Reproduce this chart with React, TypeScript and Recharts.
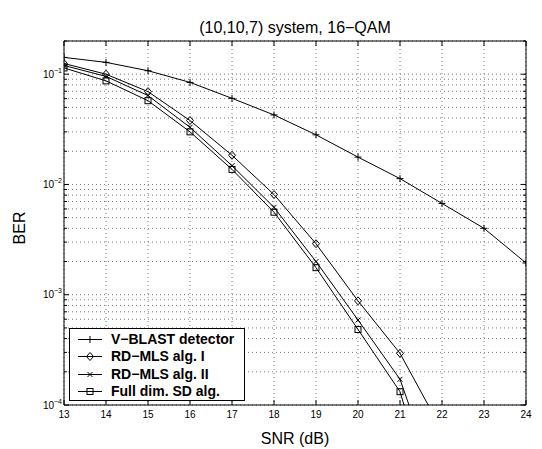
import React from 'react';
import { LineChart, Line, XAxis, YAxis, CartesianGrid, Legend } from 'recharts';

// values (BER vs SNR)
const snr = [13, 14, 15, 16, 17, 18, 19, 20, 21, 22, 23, 24];
const vblast = [0.142, 0.128, 0.1075, 0.0843, 0.0604, 0.0427, 0.0282, 0.0177, 0.0113, 0.00673, 0.004, 0.00194];
const rdMlsI = [0.125, 0.1, 0.0695, 0.038, 0.0184, 0.0081, 0.0029, 0.00088, 0.000294, 0.000059, null, null];
const rdMlsII = [0.12, 0.0955, 0.064, 0.033, 0.0148, 0.0062, 0.002, 0.00059, 0.000171, 0.000014, null, null];
const fullSd = [0.114, 0.087, 0.0575, 0.03, 0.0137, 0.0056, 0.00176, 0.000484, 0.000132, 0.000007, null, null];

const xTicks = [13, 14, 15, 16, 17, 18, 19, 20, 21, 22, 23, 24];
const yMajor = [1e-4, 1e-3, 1e-2, 1e-1];
const yExp = ['\u22124', '\u22123', '\u22122', '\u22121'];
const yMinorMult = [2, 3, 4, 5, 6, 7, 8, 9];

const seriesNames = ['V\u2212BLAST detector', 'RD\u2212MLS alg. I', 'RD\u2212MLS alg. II', 'Full dim. SD alg.'];
const seriesKeys = ['vblast', 'rd1', 'rd2', 'sd'];
const markerKinds = ['plus', 'diamond', 'cross', 'square'];

const data = snr.map((s, i) => ({
  snr: s,
  vblast: vblast[i],
  rd1: rdMlsI[i],
  rd2: rdMlsII[i],
  sd: fullSd[i],
}));

const yTicks: number[] = [];
yMajor.forEach((m) => {
  yTicks.push(m);
  yMinorMult.forEach((k) => {
    const v = m * k;
    if (v <= 0.2 + 1e-9) yTicks.push(v);
  });
});

const FONT = '"Liberation Sans", Arial, Helvetica, sans-serif';
const Y_DOMAIN: [number, number] = [1e-4, 0.2];

const isMajor = (v: number) => yMajor.some((m) => Math.abs(v / m - 1) < 1e-6);

const Marker = ({ kind, cx, cy }: { kind: string; cx: number; cy: number }) => {
  const st = { stroke: '#000', strokeWidth: 1, fill: 'none' };
  if (kind === 'plus') {
    return (
      <g>
        <line x1={cx - 3.5} y1={cy} x2={cx + 3.5} y2={cy} {...st} />
        <line x1={cx} y1={cy - 3.5} x2={cx} y2={cy + 3.5} {...st} />
      </g>
    );
  }
  if (kind === 'diamond') {
    return <polygon points={`${cx},${cy - 4} ${cx + 3.5},${cy} ${cx},${cy + 4} ${cx - 3.5},${cy}`} {...st} />;
  }
  if (kind === 'cross') {
    return (
      <g>
        <line x1={cx - 2.5} y1={cy - 2.5} x2={cx + 2.5} y2={cy + 2.5} {...st} />
        <line x1={cx - 2.5} y1={cy + 2.5} x2={cx + 2.5} y2={cy - 2.5} {...st} />
      </g>
    );
  }
  return <rect x={cx - 3} y={cy - 3} width={6} height={6} {...st} />;
};

const makeDot = (kind: string) => (props: any) => {
  const { cx, cy, index } = props;
  if (cx == null || cy == null || isNaN(cy)) return <g key={`d-${kind}-${index}`} />;
  return (
    <g key={`d-${kind}-${index}`}>
      <Marker kind={kind} cx={cx} cy={cy} />
    </g>
  );
};

const LeftTick = (props: any) => {
  const { x, y, payload } = props;
  const v = payload.value;
  const major = isMajor(v);
  const idx = yMajor.findIndex((m) => Math.abs(v / m - 1) < 1e-6);
  return (
    <g>
      <line x1={x} y1={y} x2={x + (major ? 5 : 3)} y2={y} stroke="#000" strokeWidth={1} />
      {major && (
        <text x={x - 2} y={y + 3.5} textAnchor="end" fontSize={10} fontFamily={FONT} fill="#000">
          10
          <tspan dy={-5} fontSize={7}>
            {yExp[idx]}
          </tspan>
        </text>
      )}
    </g>
  );
};

const RightTick = (props: any) => {
  const { x, y, payload } = props;
  const major = isMajor(payload.value);
  return <line x1={x} y1={y} x2={x - (major ? 5 : 3)} y2={y} stroke="#000" strokeWidth={1} />;
};

const BottomTick = (props: any) => {
  const { x, y, payload } = props;
  return (
    <g>
      <line x1={x} y1={y} x2={x} y2={y - 5} stroke="#000" strokeWidth={1} />
      <text x={x} y={y + 13} textAnchor="middle" fontSize={10} fontFamily={FONT} fill="#000">
        {payload.value}
      </text>
    </g>
  );
};

const TopTick = (props: any) => {
  const { x, y } = props;
  return <line x1={x} y1={y} x2={x} y2={y + 5} stroke="#000" strokeWidth={1} />;
};

const LegendBox = () => (
  <div
    style={{
      width: 174,
      height: 69,
      border: '1px solid #000',
      background: '#fff',
      fontFamily: FONT,
      fontWeight: 'bold',
      fontSize: 14,
      paddingTop: 2,
      boxSizing: 'content-box',
    }}
  >
    {seriesNames.map((name, i) => (
      <div key={name} style={{ height: 17.3, display: 'flex', alignItems: 'center', whiteSpace: 'nowrap' }}>
        <svg width={41} height={17} style={{ flex: 'none' }}>
          <line x1={8} y1={8.5} x2={32} y2={8.5} stroke="#000" strokeWidth={1} />
          <Marker kind={markerKinds[i]} cx={20} cy={8.5} />
        </svg>
        <span style={{ lineHeight: '17px' }}>{name}</span>
      </div>
    ))}
  </div>
);

export default function App() {
  return (
    <div style={{ position: 'absolute', left: 0, top: 0, width: 542, height: 449, background: '#fff' }}>
      <LineChart width={542} height={449} data={data} margin={{ top: 0, right: 0, bottom: 0, left: 0 }}>
        <CartesianGrid stroke="#777" strokeDasharray="1 3" strokeWidth={1} />
        <XAxis
          dataKey="snr"
          type="number"
          domain={[13, 24]}
          ticks={xTicks}
          interval={0}
          height={44}
          tickSize={0}
          tickMargin={0}
          tickLine={false}
          axisLine={{ stroke: '#000', strokeWidth: 1 }}
          tick={<BottomTick />}
          allowDataOverflow
        />
        <XAxis
          xAxisId="top"
          orientation="top"
          dataKey="snr"
          type="number"
          domain={[13, 24]}
          ticks={xTicks}
          interval={0}
          height={41}
          tickSize={0}
          tickMargin={0}
          tickLine={false}
          axisLine={{ stroke: '#000', strokeWidth: 1 }}
          tick={<TopTick />}
          allowDataOverflow
        />
        <YAxis
          type="number"
          scale="log"
          domain={Y_DOMAIN}
          ticks={yTicks}
          interval={0}
          width={64}
          tickSize={0}
          tickMargin={0}
          tickLine={false}
          axisLine={{ stroke: '#000', strokeWidth: 1 }}
          tick={<LeftTick />}
          allowDataOverflow
        />
        <YAxis
          yAxisId="right"
          orientation="right"
          type="number"
          scale="log"
          domain={Y_DOMAIN}
          ticks={yTicks}
          interval={0}
          width={16}
          tickSize={0}
          tickMargin={0}
          tickLine={false}
          axisLine={{ stroke: '#000', strokeWidth: 1 }}
          tick={<RightTick />}
          allowDataOverflow
        />
        {seriesKeys.map((k, i) => (
          <Line
            key={k}
            dataKey={k}
            type="linear"
            stroke="#000"
            strokeWidth={1}
            dot={makeDot(markerKinds[i])}
            activeDot={false}
            isAnimationActive={false}
            connectNulls={false}
          />
        ))}
        <Legend
          layout="vertical"
          align="center"
          verticalAlign="middle"
          content={<LegendBox />}
          wrapperStyle={{ position: 'absolute', left: 69, top: 328, width: 176, height: 71 }}
        />
      </LineChart>
      <div
        style={{
          position: 'absolute',
          left: 295,
          top: 19.5,
          transform: 'translateX(-50%)',
          fontFamily: FONT,
          fontSize: 16,
          lineHeight: '16px',
          whiteSpace: 'nowrap',
        }}
      >
        (10,10,7) system, 16{'\u2212'}QAM
      </div>
      <div
        style={{
          position: 'absolute',
          left: 295,
          top: 430.5,
          transform: 'translateX(-50%)',
          fontFamily: FONT,
          fontSize: 16,
          lineHeight: '16px',
          whiteSpace: 'nowrap',
        }}
      >
        SNR (dB)
      </div>
      <div
        style={{
          position: 'absolute',
          left: 20,
          top: 227.5,
          transform: 'translate(-50%, -50%) rotate(-90deg)',
          fontFamily: FONT,
          fontSize: 16,
          lineHeight: '16px',
          whiteSpace: 'nowrap',
        }}
      >
        BER
      </div>
    </div>
  );
}
